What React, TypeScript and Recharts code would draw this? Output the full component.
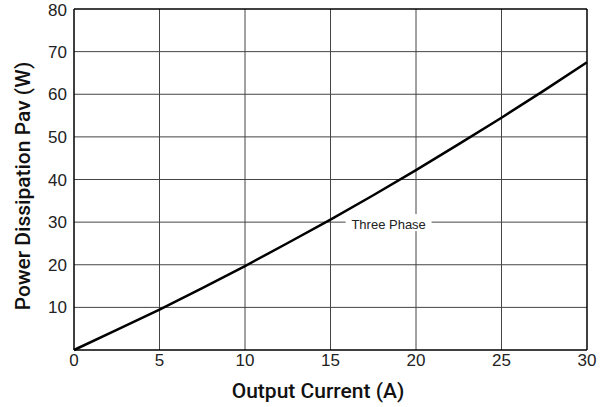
import {
  CartesianGrid,
  Line,
  LineChart,
  ReferenceDot,
  ReferenceLine,
  XAxis,
  YAxis,
} from "recharts";

const currents = [0, 2.5, 5, 7.5, 10, 12.5, 15, 17.5, 20, 22.5, 25, 27.5, 30];
const power = [0, 4.7, 9.5, 14.5, 19.7, 25.1, 30.6, 36.3, 42.2, 48.3, 54.5, 60.9, 67.5];
const xTicks = [0, 5, 10, 15, 20, 25, 30];
const yTicks = [10, 20, 30, 40, 50, 60, 70, 80];
const xLabel = "Output Current (A)";
const yLabel = "Power Dissipation Pav (W)";
const seriesLabel = "Three Phase";

const data = currents.map((c, i) => ({ current: c, power: power[i] }));

const font = '"Liberation Sans", Arial, sans-serif';
const labelFont = 'Roboto, "Liberation Sans", sans-serif';
const gridColor = "#444";

export default function App() {
  return (
    <div style={{ position: "absolute", left: 0, top: 0, background: "#fff" }}>
      <LineChart
        width={613}
        height={407}
        data={data}
        margin={{ top: 9, right: 26, bottom: 0, left: 0 }}
        style={{ fontFamily: font }}
      >
        <CartesianGrid
          stroke={gridColor}
          strokeWidth={1}
          horizontalValues={[10, 20, 30, 40, 50, 60, 70]}
          verticalValues={[5, 10, 15, 20, 25]}
        />
        <XAxis
          dataKey="current"
          type="number"
          domain={[0, 30]}
          ticks={xTicks}
          tickLine={false}
          tickSize={2}
          tickMargin={2}
          height={57}
          axisLine={{ stroke: "#000", strokeWidth: 1.5 }}
          tick={{ fontSize: 17, fill: "#222", fontFamily: font }}
          label={{
            content: ({ viewBox }: any) => (
              <text
                x={318}
                y={viewBox.y + 41}
                textAnchor="middle"
                dominantBaseline="central"
                fontSize={21}
                fontWeight={500}
                fill="#111"
                fontFamily={labelFont}
              >
                {xLabel}
              </text>
            ),
          }}
        />
        <YAxis
          type="number"
          domain={[0, 80]}
          ticks={yTicks}
          width={74}
          tickLine={false}
          tickSize={5}
          tickMargin={2}
          axisLine={{ stroke: "#000", strokeWidth: 1.5 }}
          tick={{ fontSize: 17, fill: "#222", fontFamily: font }}
          label={{
            content: () => {
              const cx = 23;
              const cy = 186;
              return (
                <text
                  x={cx}
                  y={cy}
                  transform={`rotate(-90 ${cx} ${cy})`}
                  textAnchor="middle"
                  dominantBaseline="central"
                  fontSize={21}
                  fontWeight={500}
                  fill="#111"
                  fontFamily={labelFont}
                >
                  {yLabel}
                </text>
              );
            },
          }}
        />
        <ReferenceLine y={80} stroke="#000" strokeWidth={1.5} />
        <ReferenceLine x={30} stroke="#000" strokeWidth={1.5} />
        <Line
          type="monotone"
          dataKey="power"
          stroke="#000"
          strokeWidth={2.5}
          dot={false}
          isAnimationActive={false}
        />
        <ReferenceDot
          x={18.4}
          y={30}
          r={0}
          fill="none"
          stroke="none"
          label={{
            content: ({ viewBox }: any) => {
              const cx = viewBox.x + (viewBox.width || 0) / 2;
              const cy = viewBox.y + (viewBox.height || 0) / 2;
              return (
                <g>
                  <rect x={cx - 43} y={cy - 8} width={86} height={17} fill="#fff" />
                  <text
                    x={cx}
                    y={cy + 2}
                    textAnchor="middle"
                    dominantBaseline="central"
                    fontSize={13}
                    fill="#222"
                    fontFamily={font}
                  >
                    {seriesLabel}
                  </text>
                </g>
              );
            },
          }}
        />
      </LineChart>
    </div>
  );
}
